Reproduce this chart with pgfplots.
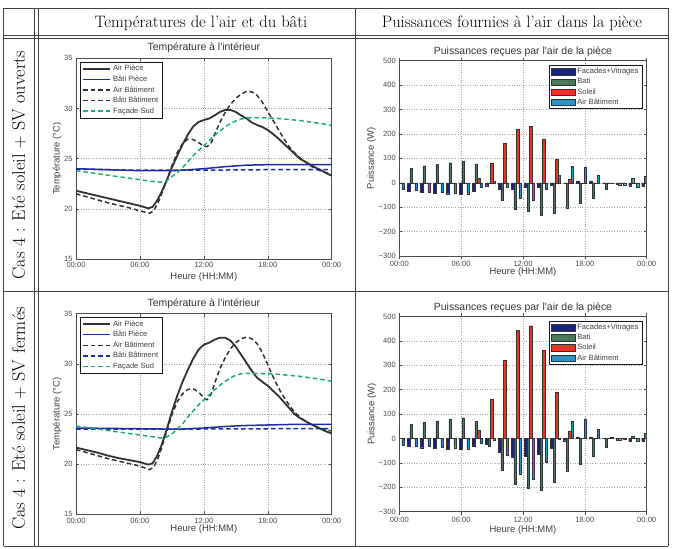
\documentclass[border=0pt]{standalone}
\usepackage{fontspec}
\usepackage{pgfplots}
\usepackage{pgfplotstable}
\pgfplotsset{compat=1.18}
\newfontfamily\chartfont{Liberation Sans}

\definecolor{mdark}{RGB}{50,50,50}
\definecolor{mblue}{RGB}{32,45,158}
\definecolor{mgreen}{RGB}{30,175,110}
\definecolor{cfac}{RGB}{25,35,125}
\definecolor{cbati}{RGB}{72,122,92}
\definecolor{csol}{RGB}{228,55,38}
\definecolor{cair}{RGB}{40,150,200}

\pgfplotstableread{
x F B S A
0 0 50 0 -28
1.263 -35 60 0 -32
2.526 -40 70 0 -37
3.789 -42 76 0 -40
5.053 -45 82 0 -43
6.316 -48 88 0 -45
7.579 -35 77 18 -20
8.842 -12 -3 80 8
10.105 -25 -72 162 -20
11.368 -28 -108 220 -62
12.632 -20 -118 230 -72
13.895 -18 -132 180 -25
15.158 -10 -125 95 30
16.421 0 -102 15 68
17.684 8 -85 0 65
18.947 8 -62 0 30
20.211 0 -27 0 -2
21.474 -5 -8 0 -8
22.737 -12 17 0 -17
24.0 -15 28 0 0
}\barsOuv

\pgfplotstableread{
x F B S A
0 0 45 0 -28
1.263 -33 57 0 -30
2.526 -38 65 0 -33
3.789 -40 72 0 -35
5.053 -43 78 0 -38
6.316 -45 85 0 -42
7.579 -33 70 33 -18
8.842 -25 -30 160 -5
10.105 -58 -130 320 -70
11.368 -75 -188 443 -145
12.632 -71 -205 462 -166
13.895 -63 -211 361 -98
15.158 -40 -180 191 -3
16.421 -9 -132 31 70
17.684 7 -104 0 79
18.947 7 -73 0 38
20.211 0 -36 0 5
21.474 -5 -5 0 -3
22.737 -10 10 0 -12
24.0 -12 20 0 0
}\barsFer

\pgfplotsset{
  every axis title/.style={at={(0.5,1)}, anchor=base},
  mbase/.style={
    scale only axis,
    axis line style={black!70, line width=0.5bp},
    every tick/.style={black!70, line width=0.45bp},
    tick align=inside, major tick length=3bp,
    xmajorgrids, ymajorgrids,
    grid style={black!35, line width=0.45bp, dotted},
    tick label style={font=\chartfont\fontsize{7.6}{9}\selectfont, text=black!70},
    /pgf/number format/assume math mode=true,
    xmin=0, xmax=24, xtick={0,6,12,18,24},
    xticklabels={00:00,06:00,12:00,18:00,00:00},
    xlabel={Heure (HH:MM)},
    label style={font=\chartfont\fontsize{9.5}{11}\selectfont, text=black!75},
    title style={font=\chartfont\fontsize{10.5}{12}\selectfont, text=black!80},
    legend cell align=left,
  },
  temp/.style={mbase, width=255.7bp, height=200.7bp,
    ymin=15, ymax=35, ytick={15,20,25,30,35},
    ylabel={Température (°C)}, title={Température à l'intérieur},
    legend style={at={(0.016,0.983)}, anchor=north west, draw=black!90,
      line width=0.6bp, fill=white,
      font=\chartfont\fontsize{7.6}{9}\selectfont, text=black!75,
      inner xsep=2bp, inner ysep=1.2bp, row sep=-0.4bp},
    legend image code/.code={\draw[##1] (0bp,0bp) -- (27bp,0bp);},
  },
  bars/.style={mbase, width=247.4bp, height=195.3bp,
    ymin=-300, ymax=500, ytick={-300,-200,-100,0,100,200,300,400,500},
    yticklabels={−300,−200,−100,0,100,200,300,400,500},
    ylabel={Puissance (W)}, title={Puissances reçues par l'air de la pièce},
    xticklabel style={yshift=1.5bp},
    ybar=0pt, bar width=0.243,
    legend style={at={(0.984,0.978)}, anchor=north east, draw=black!90,
      line width=0.6bp, fill=white,
      font=\chartfont\fontsize{7.6}{9}\selectfont, text=black!75,
      inner xsep=2bp, inner ysep=1bp, row sep=-0.8bp},
  },
  barleg/.style={legend image code/.code={\draw[##1] (0bp,-3.2bp) rectangle (24bp,3.2bp);}},
  lAP/.style={mdark, line width=1.8bp, line join=round},
  lBP/.style={mblue, line width=1.5bp, line join=round},
  lAB/.style={mdark, line width=1.5bp, dash pattern=on 4.5bp off 3bp, line join=round},
  lBB/.style={mblue, line width=1.5bp, dash pattern=on 4.5bp off 3bp},
  lFS/.style={mgreen, line width=1.5bp, dash pattern=on 4.5bp off 3bp, line join=round},
  bF/.style={barleg, fill=cfac, draw=black!80, line width=0.3bp},
  bB/.style={barleg, fill=cbati, draw=black!80, line width=0.3bp},
  bS/.style={barleg, fill=csol, draw=black!80, line width=0.3bp},
  bA/.style={barleg, fill=cair, draw=black!80, line width=0.3bp},
}

\begin{document}
\begin{tikzpicture}
\path[use as bounding box] (0,0) rectangle (674bp,549bp);

\begin{scope}[black!75, line width=0.6bp]
\draw (3.5bp,541bp) -- (668bp,541bp);
\draw (3.5bp,513.5bp) -- (668bp,513.5bp);
\draw (3.5bp,510.5bp) -- (668bp,510.5bp);
\draw (3.5bp,257.5bp) -- (668bp,257.5bp);
\draw (3.5bp,3bp) -- (668bp,3bp);
\draw (3.5bp,3bp) -- (3.5bp,541bp);
\draw (34.5bp,3bp) -- (34.5bp,541bp);
\draw (38bp,3bp) -- (38bp,541bp);
\draw (355bp,3bp) -- (355bp,541bp);
\draw (668bp,3bp) -- (668bp,541bp);
\end{scope}

\node[font=\fontsize{16.6}{19}\selectfont] at (201bp,526bp) {Températures de l'air et du bâti};
\node[font=\fontsize{16.6}{19}\selectfont] at (512bp,526bp) {Puissances fournies à l'air dans la pièce};
\node[rotate=90, font=\fontsize{18.3}{21}\selectfont] at (19bp,384bp) {Cas 4 : Eté soleil $+$ SV ouverts};
\node[rotate=90, font=\fontsize{18.3}{21}\selectfont] at (19bp,130.5bp) {Cas 4 : Eté soleil $+$ SV fermés};

% ---------- top left
\begin{axis}[temp, at={(76bp,290bp)}, anchor=south west,
  title style={at={([yshift=7.8bp]axis description cs:0.5,1)}, anchor=base},
  xlabel style={at={([yshift=-20.5bp]axis description cs:0.5,0)}, anchor=base},
  ylabel style={at={([xshift=-16.5bp]axis description cs:0,0.5)}, anchor=base}]
\addplot[lAP] coordinates {(0,21.8) (1,21.55) (2,21.3) (3,21.05) (4,20.8) (5,20.55) (6,20.3) (6.8,20.05) (7.2,20.2) (7.6,20.8) (8,21.6) (8.5,22.8) (9,24.1) (9.5,25.3) (10,26.4) (10.5,27.4) (11,28.2) (11.5,28.65) (12,28.85) (12.5,29.0) (13,29.3) (13.5,29.65) (14,29.85) (14.5,29.85) (15,29.65) (15.5,29.3) (16,29.0) (16.5,28.6) (17,28.35) (17.5,28.15) (18,27.85) (18.5,27.45) (19,27.0) (19.5,26.5) (20,26.0) (20.5,25.5) (21,25.0) (21.5,24.7) (22,24.4) (22.5,24.1) (23,23.85) (23.5,23.55) (24,23.3)};
\addlegendentry{Air Pièce}
\addplot[lBP] coordinates {(0,24.0) (3,23.9) (6,23.8) (9,23.8) (10,23.85) (12,24.0) (14,24.2) (16,24.35) (18,24.4) (20,24.4) (22,24.4) (24,24.4)};
\addlegendentry{Bâti Pièce}
\addplot[lAB] coordinates {(0,21.5) (1,21.2) (2,20.9) (3,20.6) (4,20.35) (5,20.1) (6,19.8) (6.9,19.55) (7.3,19.8) (7.7,20.6) (8,21.4) (8.5,22.8) (9,24.3) (9.5,25.6) (10,26.5) (10.5,26.95) (11,26.9) (11.5,26.6) (12,26.25) (12.3,26.2) (12.7,26.6) (13,27.4) (13.5,28.6) (14,29.6) (14.5,30.4) (15,31.0) (15.5,31.45) (16,31.7) (16.5,31.65) (17,31.3) (17.5,30.6) (18,29.7) (18.5,28.8) (19,27.9) (19.5,27.0) (20,26.2) (20.5,25.6) (21,25.1) (21.5,24.7) (22,24.3) (22.5,24.0) (23,23.75) (23.5,23.6) (24,23.5)};
\addlegendentry{Air Bâtiment}
\addplot[lBB] coordinates {(0,23.95) (6,23.85) (12,23.85) (18,23.9) (24,23.9)};
\addlegendentry{Bâti Bâtiment}
\addplot[lFS] coordinates {(0,23.8) (1,23.65) (2,23.5) (3,23.35) (4,23.2) (5,23.05) (6,22.9) (7,22.75) (8,22.65) (8.5,22.8) (9,23.2) (9.5,23.6) (10,24.1) (10.5,24.7) (11,25.3) (11.5,25.8) (12,26.3) (12.5,26.8) (13,27.3) (13.5,27.75) (14,28.15) (14.5,28.5) (15,28.75) (15.5,28.95) (16,29.05) (17,29.1) (18,29.05) (19,29.0) (20,28.9) (21,28.8) (22,28.65) (23,28.5) (24,28.3)};
\addlegendentry{Façade Sud}
\end{axis}

% ---------- top right
\begin{axis}[bars, at={(399.3bp,293bp)}, anchor=south west,
  title style={at={([yshift=6.2bp]axis description cs:0.5,1)}, anchor=base},
  xlabel style={at={([yshift=-19bp]axis description cs:0.5,0)}, anchor=base},
  ylabel style={at={([xshift=-25.5bp]axis description cs:0,0.5)}, anchor=base}]
\addplot[bF] table[x=x,y=F] {\barsOuv};
\addlegendentry{Facades+Vitrages}
\addplot[bB] table[x=x,y=B] {\barsOuv};
\addlegendentry{Bati}
\addplot[bS] table[x=x,y=S] {\barsOuv};
\addlegendentry{Soleil}
\addplot[bA] table[x=x,y=A] {\barsOuv};
\addlegendentry{Air Bâtiment}
\end{axis}

% ---------- bottom left
\begin{axis}[temp, at={(76bp,34.7bp)}, anchor=south west,
  title style={at={([yshift=7.2bp]axis description cs:0.5,1)}, anchor=base},
  xlabel style={at={([yshift=-17.5bp]axis description cs:0.5,0)}, anchor=base},
  ylabel style={at={([xshift=-16.5bp]axis description cs:0,0.5)}, anchor=base}]
\addplot[lAP] coordinates {(0,21.65) (1,21.4) (2,21.15) (3,20.85) (4,20.6) (5,20.4) (6,20.2) (6.8,19.95) (7.2,20.1) (7.6,20.8) (8,21.8) (8.5,23.4) (9,25.2) (9.5,26.8) (10,28.2) (10.5,29.4) (11,30.5) (11.5,31.4) (12,31.9) (12.5,32.1) (13,32.4) (13.5,32.6) (14,32.6) (14.5,32.3) (15,31.7) (15.5,30.9) (16,30.1) (16.5,29.3) (17,28.6) (17.5,28.2) (18,27.8) (18.5,27.3) (19,26.8) (19.5,26.2) (20,25.6) (20.5,25.0) (21,24.6) (21.5,24.3) (22,24.0) (22.5,23.75) (23,23.5) (23.5,23.25) (24,23.05)};
\addlegendentry{Air Pièce}
\addplot[lBP] coordinates {(0,23.6) (4,23.55) (8,23.5) (10,23.5) (12,23.6) (14,23.75) (16,23.85) (18,23.9) (20,23.95) (24,23.95)};
\addlegendentry{Bâti Pièce}
\addplot[lAB] coordinates {(0,21.45) (1,21.15) (2,20.85) (3,20.55) (4,20.3) (5,20.05) (6,19.8) (6.9,19.45) (7.3,19.7) (7.7,20.6) (8,21.5) (8.5,23.2) (9,24.9) (9.5,26.2) (10,27.0) (10.5,27.45) (11,27.5) (11.5,27.2) (12,26.6) (12.3,26.4) (12.7,27.0) (13,28.0) (13.5,29.5) (14,30.6) (14.5,31.5) (15,32.1) (15.5,32.5) (16,32.65) (16.5,32.5) (17,32.0) (17.5,31.1) (18,29.9) (18.5,28.7) (19,27.6) (19.5,26.7) (20,25.9) (20.5,25.2) (21,24.7) (21.5,24.3) (22,24.0) (22.5,23.75) (23,23.55) (23.5,23.4) (24,23.3)};
\addlegendentry{Air Bâtiment}
\addplot[lBB] coordinates {(0,23.5) (12,23.5) (24,23.55)};
\addlegendentry{Bâti Bâtiment}
\addplot[lFS] coordinates {(0,23.8) (1,23.65) (2,23.5) (3,23.35) (4,23.2) (5,23.05) (6,22.9) (7,22.75) (8,22.6) (8.5,22.7) (9,23.0) (9.5,23.5) (10,24.0) (10.5,24.7) (11,25.3) (11.5,25.9) (12,26.4) (12.5,26.9) (13,27.4) (13.5,27.85) (14,28.25) (14.5,28.6) (15,28.85) (15.5,29.0) (16,29.05) (17,29.05) (18,29.0) (19,28.95) (20,28.85) (21,28.75) (22,28.6) (23,28.45) (24,28.25)};
\addlegendentry{Façade Sud}
\end{axis}

% ---------- bottom right
\begin{axis}[bars, at={(399.3bp,37.3bp)}, anchor=south west,
  title style={at={([yshift=6bp]axis description cs:0.5,1)}, anchor=base},
  xlabel style={at={([yshift=-21bp]axis description cs:0.5,0)}, anchor=base},
  ylabel style={at={([xshift=-25bp]axis description cs:0,0.5)}, anchor=base}]
\addplot[bF] table[x=x,y=F] {\barsFer};
\addlegendentry{Facades+Vitrages}
\addplot[bB] table[x=x,y=B] {\barsFer};
\addlegendentry{Bati}
\addplot[bS] table[x=x,y=S] {\barsFer};
\addlegendentry{Soleil}
\addplot[bA] table[x=x,y=A] {\barsFer};
\addlegendentry{Air Bâtiment}
\end{axis}
\end{tikzpicture}
\end{document}
